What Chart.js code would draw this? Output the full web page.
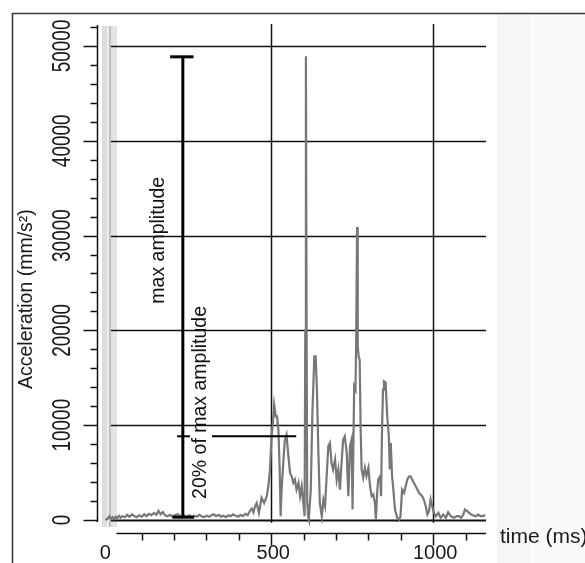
<!DOCTYPE html>
<html><head><meta charset="utf-8">
<script src="https://cdn.jsdelivr.net/npm/chart.js@4/dist/chart.umd.min.js"></script>
<style>html,body{margin:0;padding:0;background:#fff;}#wrap{position:relative;width:585px;height:563px;}</style>
</head><body><div id="wrap"><canvas id="c" width="585" height="563"></canvas></div>
<script>
// ---- data ----
const timeMs = [-12,-5,0,5,10,15,20,25,30,35,40,48,55,62,70,78,85,92,100,108,115,122,130,138,145,152,158,165,172,180,188,195,202,210,218,225,232,240,248,255,262,270,278,285,292,300,308,315,322,330,338,345,352,360,368,375,382,390,398,405,412,420,427,433,440,445,
450,455,462,470,478,486,491,496,501,506,509,514,518,522,526,529,532,537,542,547,553,558,563,568,573,578,584,589,594,599,603,605,607,609,611,614,616,622,627,633,637,641,645,650,656,661,666,671,676,681,686,691,697,702,707,712,717,722,727,733,738,743,748,751,756,760,762,765,767,770,773,776,779,784,789,794,800,805,810,815,820,823,827,830,836,839,842,845,848,853,858,863,866,869,873,877,882,889,895,899,904,910,915,920,926,930,935,940,946,951,956,961,966,971,977,982,987,992,997,1002,1008,1016,1023,1031,1039,1046,1054,1064,1072,1079,1086,1093,1098,1105,1111,1118,1124,1132,1139,1146,1155,1160];
const accel = [0,150,400,150,300,100,350,200,450,250,400,300,550,350,600,400,300,500,350,600,400,650,500,750,550,950,600,850,500,400,550,350,500,600,450,300,450,350,500,300,450,350,550,400,300,450,350,500,600,400,550,350,450,300,500,400,600,450,350,550,400,650,500,900,1200,800,
1450,1800,760,2340,1800,2500,3560,5300,8830,10600,12170,10940,10940,9540,5320,400,3200,6030,8480,9000,6720,4970,4610,3920,4270,3210,3920,2510,3560,1810,400,20000,48900,22000,2000,300,50,3200,11300,17260,17260,13750,7780,1810,400,2160,1450,4610,7780,8130,6030,5320,6380,4270,5320,3210,6030,8480,8830,7080,2510,7780,8480,1100,14100,13750,18300,30900,18300,17200,16900,9540,5320,4450,5500,4610,5500,3560,2510,2690,1810,50,2870,4270,4610,2510,9540,13750,14630,14520,10940,8830,5320,8130,4610,3210,1100,230,50,400,3210,2870,3560,4270,4610,4610,4270,3920,3560,3210,2870,2690,2510,2160,1450,580,930,2160,1450,760,400,760,230,580,230,820,400,230,400,400,230,580,1100,930,760,580,470,400,580,400,400,580];
const yMajorTicks = [0,10000,20000,30000,40000,50000];
const yTickLabels = ['0','10000','20000','30000','40000','50000'];
const yMinorStep = 2000;
const yTop = 52000;
const xMajorTicks = [0,500,1000];
const xTickLabels = ['0','500','1000'];
const xMinorTicks = [100,200,300,400,600,700,800,900,1100];
const xGridLines = [500,1000];
const yTitle = 'Acceleration (mm/s²)';
const xTitle = 'time (ms)';
const maxAmplitude = 48850;
const twentyPctLevel = 8830;
const markerTime = 227;
const thresholdFrom = 317, thresholdTo = 577;
const labelMax = 'max amplitude';
const label20 = '20% of max amplitude';

const FONT = '"Liberation Sans", Arial, sans-serif';

const decor = {
  id: 'decor',
  beforeDatasetsDraw(chart) {
    const {ctx, chartArea: ca, scales: {x, y}} = chart;
    ctx.save();
    // right grey panel
    ctx.fillStyle = '#f6f6f6';
    ctx.fillRect(497, 14, 88, 549);
    ctx.fillStyle = '#fafafa';
    ctx.fillRect(530, 14, 55, 549);
    // frame
    ctx.strokeStyle = '#3a3a3a';
    ctx.lineWidth = 1.6;
    ctx.beginPath();
    ctx.moveTo(12.5, 563); ctx.lineTo(12.5, 13.5); ctx.lineTo(585, 13.5);
    ctx.stroke();
    // grey bands near t=0
    const bandTop = 26, bandBot = 527;
    const band = (a, b, c) => { ctx.fillStyle = c; const p = x.getPixelForValue(a), q = x.getPixelForValue(b); ctx.fillRect(p, bandTop, q - p, bandBot - bandTop); };
    band(-22.5, -7, '#dcdcdc');
    band(-7, -1, '#eeeeee');
    band(-1, 5, '#bcbcbc');
    band(5, 24, '#e3e3e3');
    // horizontal grid
    ctx.strokeStyle = '#111';
    const gx0 = x.getPixelForValue(5), gx1 = ca.right;
    yMajorTicks.forEach(v => {
      const py = Math.round(y.getPixelForValue(v)) + 0.5;
      ctx.lineWidth = v === 0 ? 2.2 : 1.3;
      ctx.beginPath(); ctx.moveTo(gx0, py); ctx.lineTo(gx1, py); ctx.stroke();
    });
    // vertical grid
    ctx.lineWidth = 1.5;
    xGridLines.forEach(t => {
      const px = Math.round(x.getPixelForValue(t)) + 0.5;
      ctx.beginPath(); ctx.moveTo(px, 24); ctx.lineTo(px, y.getPixelForValue(-300)); ctx.stroke();
    });
    ctx.restore();
  },
  afterDatasetsDraw(chart) {
    const {ctx, chartArea: ca, scales: {x, y}} = chart;
    ctx.save();
    ctx.strokeStyle = '#111';
    ctx.fillStyle = '#111';
    // y axis
    const ax = ca.left + 0.5;
    ctx.lineWidth = 1.5;
    ctx.beginPath(); ctx.moveTo(ax, y.getPixelForValue(yTop) - 2); ctx.lineTo(ax, y.getPixelForValue(-200)); ctx.stroke();
    for (let v = 0; v <= yTop; v += yMinorStep) {
      const py = Math.round(y.getPixelForValue(v)) + 0.5;
      const major = v % 10000 === 0;
      ctx.beginPath(); ctx.moveTo(major ? ax - 14 : ax - 7, py); ctx.lineTo(ax, py); ctx.stroke();
    }
    // y tick labels (rotated)
    ctx.font = '19px ' + FONT;
    ctx.textAlign = 'center';
    ctx.textBaseline = 'middle';
    yMajorTicks.forEach((v, i) => {
      ctx.save();
      ctx.translate(61, y.getPixelForValue(v));
      ctx.rotate(-Math.PI / 2);
      ctx.scale(1, 1.4);
      ctx.fillStyle = '#1a1a1a';
      ctx.fillText(yTickLabels[i], 0, 1);
      ctx.restore();
    });
    // y title
    ctx.save();
    ctx.translate(27, y.getPixelForValue(23300));
    ctx.rotate(-Math.PI / 2);
    ctx.font = '19.5px ' + FONT;
    ctx.fillStyle = '#1a1a1a';
    ctx.fillText(yTitle, 0, 0);
    ctx.restore();
    // x axis
    const axy = ca.bottom + 0.5;
    ctx.lineWidth = 1.5;
    ctx.beginPath(); ctx.moveTo(x.getPixelForValue(22), axy); ctx.lineTo(ca.right, axy); ctx.stroke();
    xMinorTicks.forEach(t => {
      const px = Math.round(x.getPixelForValue(t)) + 0.5;
      ctx.beginPath(); ctx.moveTo(px, axy); ctx.lineTo(px, axy + 7); ctx.stroke();
    });
    xGridLines.forEach(t => {
      const px = Math.round(x.getPixelForValue(t)) + 0.5;
      ctx.beginPath(); ctx.moveTo(px, axy); ctx.lineTo(px, axy + 12); ctx.stroke();
    });
    ctx.font = '20px ' + FONT;
    ctx.textAlign = 'center';
    ctx.textBaseline = 'middle';
    ctx.fillStyle = '#1a1a1a';
    xMajorTicks.forEach((t, i) => {
      const off = t === 0 ? -4 : 2;
      ctx.fillText(xTickLabels[i], x.getPixelForValue(t) + off, 553);
    });
    ctx.textAlign = 'left';
    ctx.font = '21px ' + FONT;
    ctx.fillText(xTitle, 500, 537);
    // annotations
    const bx = x.getPixelForValue(markerTime);
    const topY = y.getPixelForValue(maxAmplitude);
    const botY = y.getPixelForValue(300);
    ctx.strokeStyle = '#000';
    ctx.lineWidth = 3;
    ctx.beginPath(); ctx.moveTo(bx, topY); ctx.lineTo(bx, botY); ctx.stroke();
    ctx.beginPath(); ctx.moveTo(x.getPixelForValue(188), topY); ctx.lineTo(x.getPixelForValue(260), topY); ctx.stroke();
    ctx.beginPath(); ctx.moveTo(x.getPixelForValue(195), botY); ctx.lineTo(x.getPixelForValue(262), botY); ctx.stroke();
    const ly = y.getPixelForValue(twentyPctLevel);
    ctx.lineWidth = 2;
    ctx.beginPath(); ctx.moveTo(x.getPixelForValue(209), ly); ctx.lineTo(x.getPixelForValue(249), ly); ctx.stroke();
    ctx.beginPath(); ctx.moveTo(x.getPixelForValue(thresholdFrom), ly); ctx.lineTo(x.getPixelForValue(thresholdTo), ly); ctx.stroke();
    // annotation text
    ctx.fillStyle = '#111';
    ctx.font = '19.5px ' + FONT;
    ctx.textAlign = 'center';
    ctx.textBaseline = 'middle';
    ctx.save();
    ctx.translate(159, y.getPixelForValue(29500));
    ctx.rotate(-Math.PI / 2);
    ctx.fillText(labelMax, 0, 0);
    ctx.restore();
    ctx.save();
    ctx.translate(201, y.getPixelForValue(12400));
    ctx.rotate(-Math.PI / 2);
    ctx.fillText(label20, 0, 0);
    ctx.restore();
    ctx.restore();
  }
};

new Chart(document.getElementById('c'), {
  type: 'line',
  data: { datasets: [{
    data: timeMs.map((t, i) => ({x: t, y: accel[i]})),
    borderColor: '#777777', borderWidth: 2.2, pointRadius: 0, tension: 0, fill: false
  }]},
  options: {
    responsive: false, animation: false, events: [],
    layout: { padding: { left: 97, right: 99, top: 26, bottom: 30 } },
    plugins: { legend: { display: false }, tooltip: { enabled: false } },
    scales: {
      x: { type: 'linear', display: false, min: -38, max: 1163 },
      y: { type: 'linear', display: false, min: -1370, max: 52100 }
    }
  },
  plugins: [decor]
});
</script></body></html>
